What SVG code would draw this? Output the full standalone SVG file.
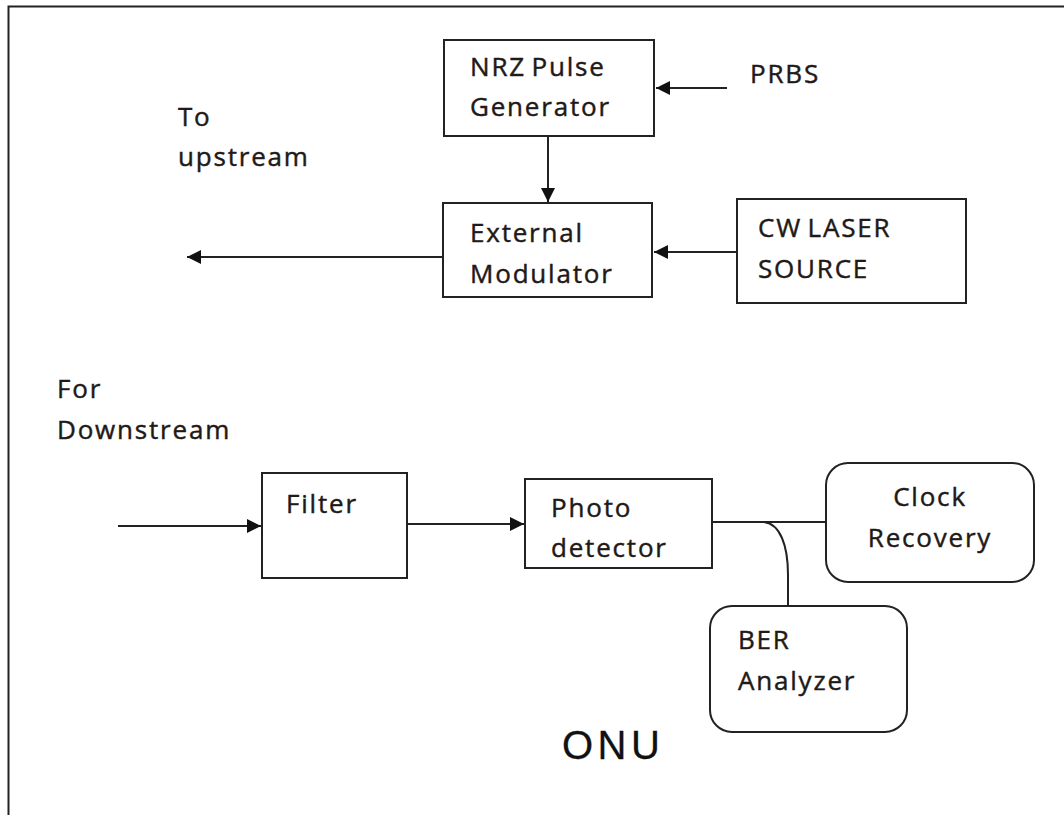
<svg xmlns="http://www.w3.org/2000/svg" width="1064" height="815" viewBox="0 0 1064 815">
<defs>
<style>
.box{fill:#fff;stroke:#222;stroke-width:2}
.ln{fill:none;stroke:#222;stroke-width:2}
.t{font-family:"Open Sans","Liberation Sans",sans-serif;font-size:26px;fill:#1f1a18;stroke:#1f1a18;stroke-width:0.45;letter-spacing:1.8px}
.tight{word-spacing:-3px}
.big{font-family:"Liberation Sans",Arial,sans-serif;font-size:40px;fill:#111;stroke:#111;stroke-width:0.3;letter-spacing:4.5px}
</style>
<marker id="ah" viewBox="0 0 10 10" refX="10" refY="5" markerWidth="14" markerHeight="14" markerUnits="userSpaceOnUse" orient="auto">
<path d="M0,0 L10,5 L0,10 z" fill="#111"/>
</marker>
</defs>
<rect width="1064" height="815" fill="#fff"/>
<path d="M8.5,815 V6.5 H1064" class="ln"/>

<g id="connectors">
<line x1="727" y1="88" x2="656" y2="88" class="ln" marker-end="url(#ah)"/>
<line x1="548" y1="136" x2="548" y2="202" class="ln" marker-end="url(#ah)"/>
<line x1="737" y1="252" x2="654" y2="252" class="ln" marker-end="url(#ah)"/>
<line x1="443" y1="257" x2="187" y2="257" class="ln" marker-end="url(#ah)"/>
<line x1="118" y1="526" x2="261" y2="526" class="ln" marker-end="url(#ah)"/>
<line x1="407" y1="524" x2="524" y2="524" class="ln" marker-end="url(#ah)"/>
<line x1="712" y1="522" x2="826" y2="522" class="ln"/>
<path d="M764,522 C780,524 788,545 788,575 V606" class="ln"/>
</g>

<g id="nrz">
<rect x="444" y="40" width="210" height="96" class="box"/>
<text x="470" y="76" class="t tight">NRZ Pulse</text>
<text x="470" y="116" class="t">Generator</text>
</g>
<g id="prbs"><text x="750" y="83" class="t">PRBS</text></g>
<g id="extmod">
<rect x="443" y="203" width="209" height="94" class="box"/>
<text x="470" y="242" class="t">External</text>
<text x="470" y="283" class="t">Modulator</text>
</g>
<g id="cwlaser">
<rect x="737" y="199" width="229" height="104" class="box"/>
<text x="758" y="237" class="t tight">CW LASER</text>
<text x="758" y="278" class="t">SOURCE</text>
</g>
<g id="upstream">
<text x="178" y="126" class="t">To</text>
<text x="178" y="166" class="t">upstream</text>
</g>
<g id="downstream">
<text x="57" y="398" class="t">For</text>
<text x="57" y="439" class="t">Downstream</text>
</g>
<g id="filter">
<rect x="262" y="473" width="145" height="105" class="box"/>
<text x="286" y="513" class="t">Filter</text>
</g>
<g id="photodetector">
<rect x="525" y="479" width="187" height="89" class="box"/>
<text x="551" y="517" class="t">Photo</text>
<text x="551" y="557" class="t">detector</text>
</g>
<g id="clock">
<rect x="826" y="463" width="208" height="119" rx="22" class="box"/>
<text x="930" y="506" class="t" text-anchor="middle">Clock</text>
<text x="930" y="547" class="t" text-anchor="middle">Recovery</text>
</g>
<g id="ber">
<rect x="710" y="606" width="197" height="126" rx="22" class="box"/>
<text x="738" y="649" class="t">BER</text>
<text x="738" y="690" class="t">Analyzer</text>
</g>
<g id="onu"><text x="562" y="759" class="big">ONU</text></g>
</svg>
